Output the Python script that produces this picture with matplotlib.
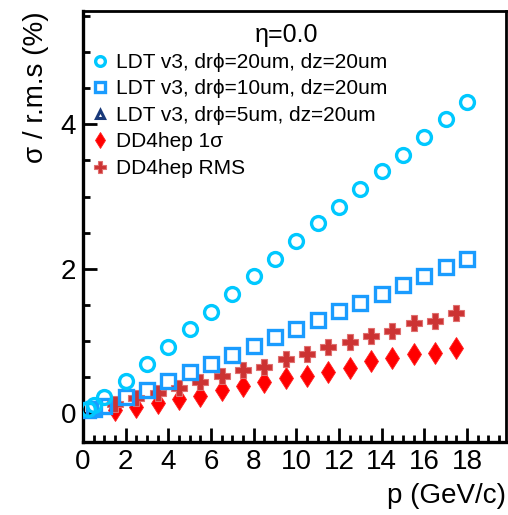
import matplotlib
matplotlib.use("Agg")
import matplotlib.pyplot as plt
from matplotlib.ticker import MultipleLocator

plt.rcParams['font.family'] = ['Liberation Sans', 'DejaVu Sans']

# NOTE : data
p_ldt = [0.25, 0.5, 1, 2, 3, 4, 5, 6, 7, 8, 9, 10, 11, 12, 13, 14, 15, 16, 17, 18]
res_20 = [0.06, 0.11, 0.22, 0.45, 0.68, 0.92, 1.17, 1.40, 1.65, 1.90, 2.14,
          2.38, 2.63, 2.86, 3.10, 3.35, 3.58, 3.83, 4.07, 4.31]
res_10 = [0.05, 0.06, 0.10, 0.22, 0.32, 0.44, 0.57, 0.68, 0.81, 0.93, 1.05,
          1.17, 1.29, 1.41, 1.53, 1.65, 1.78, 1.90, 2.02, 2.14]
p_5 = []
res_5 = []

p_dd = [1.5, 2.5, 3.5, 4.5, 5.5, 6.5, 7.5, 8.5, 9.5, 10.5, 11.5, 12.5, 13.5,
        14.5, 15.5, 16.5, 17.5]
sigma_dd = [0.04, 0.08, 0.14, 0.20, 0.24, 0.32, 0.37, 0.43, 0.48, 0.52, 0.57,
            0.63, 0.72, 0.76, 0.82, 0.83, 0.90]
rms_dd = [0.13, 0.21, 0.28, 0.35, 0.43, 0.52, 0.60, 0.64, 0.75, 0.82, 0.92,
          0.99, 1.07, 1.14, 1.25, 1.28, 1.39]

labels = ["LDT v3, dr\u03d5=20um, dz=20um",
          "LDT v3, dr\u03d5=10um, dz=20um",
          "LDT v3, dr\u03d5=5um, dz=20um",
          "DD4hep 1\u03c3",
          "DD4hep RMS"]

fig = plt.figure(figsize=(5.08, 5.15), dpi=100)
ax = fig.add_axes([0.1634, 0.1417, 0.8326, 0.8369])

ax.plot(p_dd, sigma_dd, ls="none", marker="d", ms=11.5, color="#ff0000",
        mec="#ff2020", mew=0.6, label=labels[3], zorder=3)
ax.plot(p_dd, rms_dd, ls="none", marker="P", ms=12, color="#cc3333",
        mec="#e07070", mew=0.8, label=labels[4], zorder=4)
ax.plot(p_5, res_5, ls="none", marker="^", ms=9, mfc="none", mec="#1a3a7a",
        mew=2.2, label=labels[2], zorder=4)
ax.plot(p_ldt, res_10, ls="none", marker="s", ms=10, mfc="none", mec="#1a9cff",
        mew=2.4, label=labels[1], zorder=5)
ax.plot(p_ldt, res_20, ls="none", marker="o", ms=10, mfc="none", mec="#00c8ff",
        mew=2.4, label=labels[0], zorder=6)

ax.set_xlim(0, 19.83)
ax.set_ylim(-0.4, 5.57)

ax.xaxis.set_major_locator(MultipleLocator(2))
ax.xaxis.set_minor_locator(MultipleLocator(0.5))
ax.yaxis.set_major_locator(MultipleLocator(2))
ax.yaxis.set_minor_locator(MultipleLocator(0.5))
ax.tick_params(which="both", direction="in", top=False, right=False,
               width=2, labelsize=20, color="black")
ax.tick_params(which="major", length=10, pad=5)
ax.tick_params(which="minor", length=5)

for s in ax.spines.values():
    s.set_linewidth(2)
ax.spines["left"].set_linewidth(2.4)
ax.spines["bottom"].set_linewidth(2.4)

ax.set_xlabel("p (GeV/c)", fontsize=20, loc="right", labelpad=6)
ax.set_ylabel("\u03c3 / r.m.s (%)", fontsize=20, loc="top", labelpad=8)

ax.text(0.482, 0.944, "\u03b7=0.0", transform=ax.transAxes, fontsize=18,
        ha="center", va="center")

h, l = ax.get_legend_handles_labels()
order = [4, 3, 2, 0, 1]
ax.legend([h[i] for i in order], [l[i] for i in order], loc="upper left",
          bbox_to_anchor=(0.021, 0.903), frameon=False, fontsize=15,
          borderpad=0, borderaxespad=0, handlelength=0.75, handletextpad=0.4,
          labelspacing=0.36, markerscale=0.7)

fig.savefig("out.png", dpi=100)
